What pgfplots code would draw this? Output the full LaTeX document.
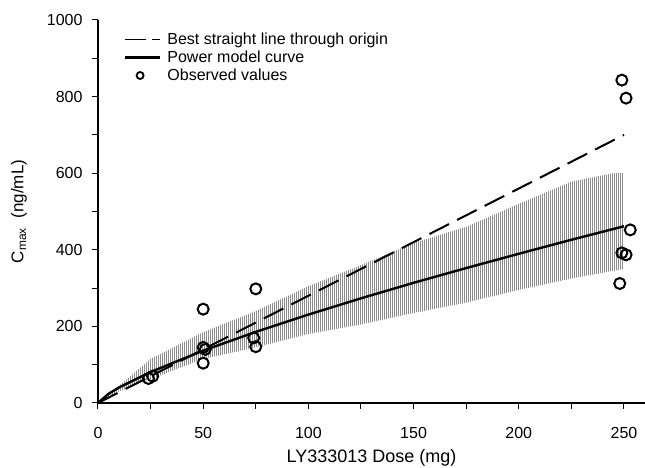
\documentclass[border=0pt]{standalone}
\usepackage{pgfplots}
\pgfplotsset{compat=1.18}
\usepackage{fontspec}
\setmainfont{Liberation Sans}
\usetikzlibrary{patterns.meta}
\begin{document}
\begin{tikzpicture}
\begin{axis}[
  scale only axis,
  width=547pt, height=383pt,
  xmin=0, xmax=260, ymin=0, ymax=1000,
  axis x line*=bottom, axis y line*=left,
  axis line style={line width=1.3pt, -},
  xtick={0,50,...,250}, minor xtick={25,75,...,225},
  ytick={0,200,...,1000}, minor ytick={100,300,...,900},
  tick align=outside,
  major tick length=6pt, minor tick length=6pt,
  tick style={black, line width=1pt},
  /pgf/number format/assume math mode=true,
  /pgf/number format/set thousands separator={},
  ticklabel style={font=\fontsize{16}{18}\selectfont},
  yticklabel style={xshift=-6pt},
  xticklabel style={yshift=-15pt},
  xlabel={LY333013 Dose (mg)},
  ylabel={C\textsubscript{max}\ \ (ng/mL)},
  xlabel style={font=\fontsize{18}{20}\selectfont, yshift=-4pt},
  ylabel style={font=\fontsize{17}{19}\selectfont, yshift=13pt},
  legend style={at={(0.045,0.975)}, anchor=north west, draw=none, fill=none,
    font=\fontsize{16}{17}\selectfont, row sep=1pt, inner sep=1pt,
    nodes={inner xsep=6pt}},
  legend cell align=left,
  clip=false,
]
\coordinate (O) at (rel axis cs:0,0);
% band (simulated range)
\addplot[forget plot, draw=none, pattern={Lines[angle=90,distance=2pt,line width=0.7pt]}, pattern color=gray!90] coordinates {
 (0,0) (10,45) (25,115) (50,185) (75,240) (100,305) (125,360) (150,418) (175,460) (200,520) (225,578) (245,600) (250,600)
 (250,350) (245,345) (225,325) (200,295) (175,262) (150,235) (125,205) (100,180) (75,145) (50,115) (25,62) (10,30) (0,0)
};
\addplot[black, line width=2pt, dash pattern=on 22pt off 9pt,
  legend image code/.code={\draw[black,line width=1.3pt] (0pt,0pt) -- (21pt,0pt); \draw[black,line width=1.3pt] (27pt,0pt) -- (35pt,0pt);}]
  coordinates {(0,0) (250,700)};
\addlegendentry{Best straight line through origin}
\addplot[black, line width=2.4pt,
  legend image code/.code={\draw[black,line width=2.6pt] (0pt,0pt) -- (35pt,0pt);}] coordinates {
 (0,0) (5,24.0) (10,40.5) (25,80.9) (50,136.7) (75,185.7) (100,230.8) (125,273.3)
 (150,313.8) (175,352.3) (200,389.6) (225,426.2) (250,461.4)};
\addlegendentry{Power model curve}
\addplot[only marks, mark=o, mark size=5.5pt, mark options={line width=2pt, black},
  legend image code/.code={\draw[black,line width=1.8pt] (15pt,0pt) circle (3.5pt);}] coordinates {
 (24,64) (26,70)
 (50,245) (50,145) (50,104) (51,140)
 (75,298) (74,170) (75,147)
 (249,843) (251,796) (253,452) (249,392) (251,387) (248,312)};
\addlegendentry{Observed values}
\end{axis}
\pgfresetboundingbox
\path[use as bounding box] ([xshift=-98pt,yshift=-65pt]O) rectangle ([xshift=547pt,yshift=403pt]O);
\end{tikzpicture}
\end{document}
